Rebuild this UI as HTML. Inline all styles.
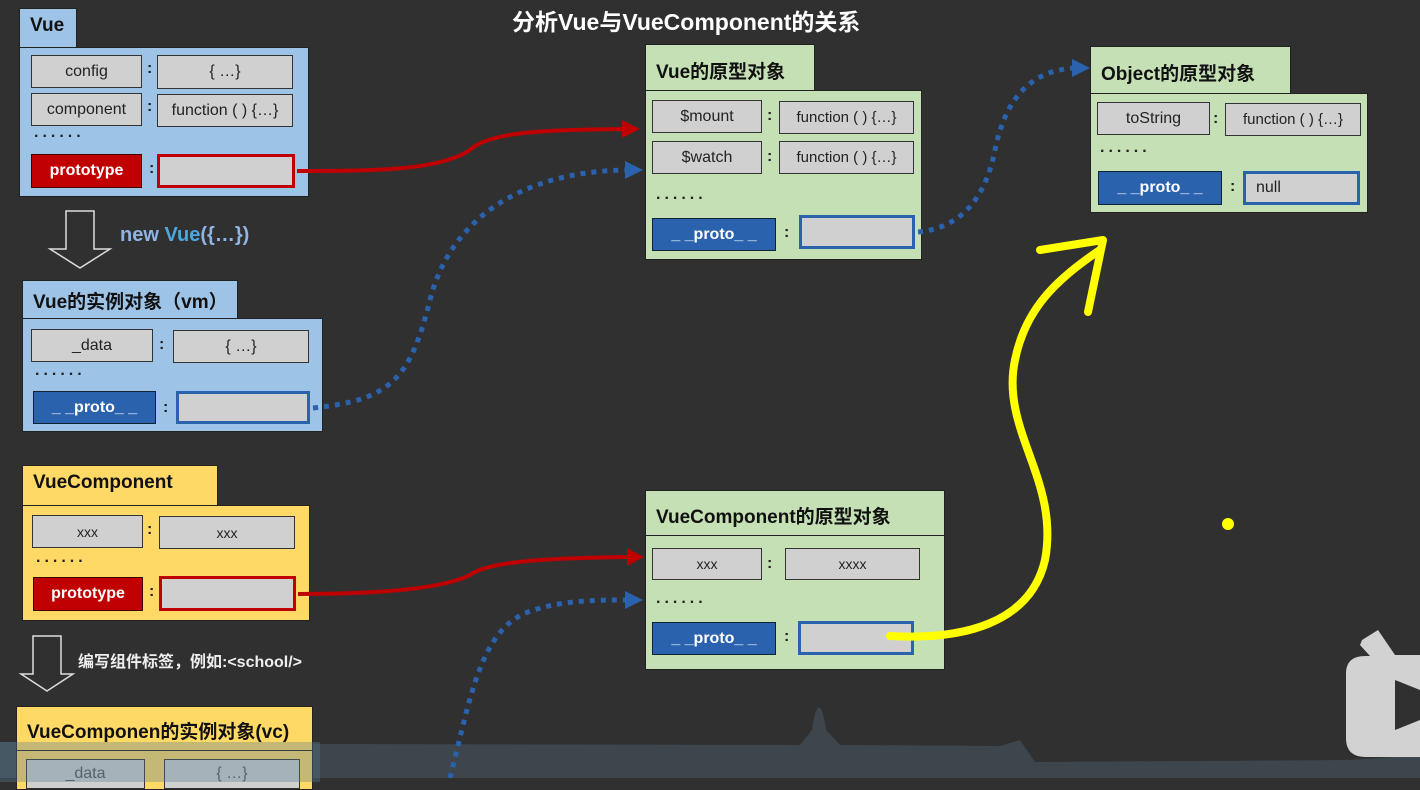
<!DOCTYPE html>
<html><head><meta charset="utf-8"><style>
*{margin:0;padding:0;box-sizing:border-box}
body{width:1420px;height:778px;background:#303030;position:relative;overflow:hidden;font-family:"Liberation Sans","Noto Sans CJK SC",sans-serif}
.a{position:absolute}
.tab{position:absolute;border:1px solid #222;font-weight:bold;font-size:19px;color:#111;padding:6px 0 0 10px}
.body{position:absolute;border:1px solid #222}
.bl{background:#9dc3e6}.gr{background:#c5e0b4}.ye{background:#ffd966}
.k{position:absolute;background:#d0d0d0;border:1px solid #333;font-size:16px;color:#222;display:flex;align-items:center;justify-content:center}
.red{background:#c00000;color:#fff;font-weight:bold;border-color:#400}
.blu{background:#2b62ad;color:#fff;font-weight:bold;border-color:#123}
.rb{border:3px solid #c00000}
.bb{border:3px solid #2b62ad}
.c{position:absolute;font-weight:bold;font-size:16px;color:#222}
.d{position:absolute;font-size:16px;letter-spacing:4px;color:#222;font-weight:bold}
</style></head><body>
<div class="a" style="left:512px;top:3px;color:#fff;font-weight:bold;font-size:23px">分析Vue与VueComponent的关系</div>

<svg class="a" style="left:0;top:0" width="1420" height="778">
<path d="M0 742 L300 742 L320 744 L800 745 L812 730 C816 700 822 700 826 730 L840 745 L1000 746 L1020 740 L1035 762 L1350 760 L1420 755 L1420 778 L0 778z" fill="#5a7a90" opacity="0.3"/>
<path d="M1362 640 L1378 630 L1395 655 L1420 655 L1420 757 L1366 757 C1352 757 1346 750 1346 738 L1346 674 C1346 662 1352 656 1366 656 L1370 656 L1360 645z" fill="#d2d2d2"/>
<path d="M1395 680 L1420 690 L1420 720 L1395 730z" fill="#303030"/>
<path d="M66 211h28v38h16l-30 19l-30-19h16z" fill="none" stroke="#ddd" stroke-width="1.5"/>
<path d="M33 636h28v38h12l-26 17l-26-17h12z" fill="none" stroke="#ddd" stroke-width="1.5"/>
</svg>

<!-- Vue -->
<div class="tab bl" style="left:19px;top:8px;width:58px;height:40px">Vue</div>
<div class="body bl" style="left:19px;top:47px;width:290px;height:150px"></div>
<div class="k" style="left:31px;top:55px;width:111px;height:33px">config</div><div class="c" style="left:147px;top:60px">:</div>
<div class="k" style="left:157px;top:55px;width:136px;height:34px">{ …}</div>
<div class="k" style="left:31px;top:93px;width:111px;height:33px">component</div><div class="c" style="left:147px;top:98px">:</div>
<div class="k" style="left:157px;top:94px;width:136px;height:33px">function ( ) {…}</div>
<div class="d" style="left:34px;top:124px">......</div>
<div class="k red" style="left:31px;top:154px;width:111px;height:34px">prototype</div><div class="c" style="left:149px;top:160px">:</div>
<div class="k rb" style="left:157px;top:154px;width:138px;height:34px"></div>

<div class="a" style="left:120px;top:224px;font-size:20px;font-weight:bold;color:#8fb4e3">new <span style="color:#4da6e0">Vue</span>({…})</div>

<!-- vm -->
<div class="tab bl" style="left:22px;top:280px;width:216px;height:39px">Vue的实例对象（vm）</div>
<div class="body bl" style="left:22px;top:318px;width:301px;height:114px"></div>
<div class="k" style="left:31px;top:329px;width:122px;height:33px">_data</div><div class="c" style="left:159px;top:336px">:</div>
<div class="k" style="left:173px;top:330px;width:136px;height:33px">{ …}</div>
<div class="d" style="left:35px;top:362px">......</div>
<div class="k blu" style="left:33px;top:391px;width:123px;height:33px">_ _proto_ _</div><div class="c" style="left:163px;top:399px">:</div>
<div class="k bb" style="left:176px;top:391px;width:134px;height:33px"></div>

<!-- VueComponent -->
<div class="tab ye" style="left:22px;top:465px;width:196px;height:41px">VueComponent</div>
<div class="body ye" style="left:22px;top:505px;width:288px;height:116px"></div>
<div class="k" style="left:32px;top:515px;width:111px;height:33px;font-size:14px">xxx</div><div class="c" style="left:147px;top:521px">:</div>
<div class="k" style="left:159px;top:516px;width:136px;height:33px;font-size:14px">xxx</div>
<div class="d" style="left:36px;top:549px">......</div>
<div class="k red" style="left:33px;top:577px;width:110px;height:34px">prototype</div><div class="c" style="left:149px;top:583px">:</div>
<div class="k rb" style="left:159px;top:576px;width:137px;height:35px"></div>
<div class="a" style="left:78px;top:648px;color:#eee;font-weight:bold;font-size:16px">编写组件标签，例如:&lt;school/&gt;</div>

<!-- vc -->
<div class="tab ye" style="left:16px;top:706px;width:297px;height:45px;padding-top:10px">VueComponen的实例对象(vc)</div>
<div class="body ye" style="left:16px;top:750px;width:297px;height:40px"></div>
<div class="k" style="left:26px;top:759px;width:119px;height:30px;color:#555">_data</div>
<div class="k" style="left:164px;top:759px;width:136px;height:30px;color:#555">{ …}</div>
<div class="a" style="left:0;top:742px;width:320px;height:40px;background:#5a7a90;opacity:0.35"></div>

<!-- Vue prototype -->
<div class="tab gr" style="left:645px;top:44px;width:170px;height:47px;padding-top:12px">Vue的原型对象</div>
<div class="body gr" style="left:645px;top:90px;width:277px;height:170px"></div>
<div class="k" style="left:652px;top:100px;width:110px;height:33px">$mount</div><div class="c" style="left:767px;top:107px">:</div>
<div class="k" style="left:779px;top:101px;width:135px;height:33px;font-size:15px">function ( ) {…}</div>
<div class="k" style="left:652px;top:141px;width:110px;height:33px">$watch</div><div class="c" style="left:767px;top:148px">:</div>
<div class="k" style="left:779px;top:141px;width:135px;height:33px;font-size:15px">function ( ) {…}</div>
<div class="d" style="left:656px;top:186px">......</div>
<div class="k blu" style="left:652px;top:218px;width:124px;height:33px">_ _proto_ _</div><div class="c" style="left:784px;top:224px">:</div>
<div class="k bb" style="left:799px;top:215px;width:116px;height:34px"></div>

<!-- Object prototype -->
<div class="tab gr" style="left:1090px;top:46px;width:201px;height:48px;padding-top:12px">Object的原型对象</div>
<div class="body gr" style="left:1090px;top:93px;width:278px;height:120px"></div>
<div class="k" style="left:1097px;top:102px;width:113px;height:33px">toString</div><div class="c" style="left:1213px;top:110px">:</div>
<div class="k" style="left:1225px;top:103px;width:136px;height:33px;font-size:15px">function ( ) {…}</div>
<div class="d" style="left:1100px;top:139px">......</div>
<div class="k blu" style="left:1098px;top:171px;width:124px;height:34px">_ _proto_ _</div><div class="c" style="left:1230px;top:178px">:</div>
<div class="k bb" style="left:1243px;top:171px;width:117px;height:34px;justify-content:flex-start;padding-left:10px">null</div>

<!-- VueComponent prototype -->
<div class="tab gr" style="left:645px;top:490px;width:300px;height:46px;padding-top:11px">VueComponent的原型对象</div>
<div class="body gr" style="left:645px;top:535px;width:300px;height:135px"></div>
<div class="k" style="left:652px;top:548px;width:110px;height:32px;font-size:14px">xxx</div><div class="c" style="left:767px;top:555px">:</div>
<div class="k" style="left:785px;top:548px;width:135px;height:32px;font-size:14px">xxxx</div>
<div class="d" style="left:656px;top:590px">......</div>
<div class="k blu" style="left:652px;top:622px;width:124px;height:33px">_ _proto_ _</div><div class="c" style="left:784px;top:628px">:</div>
<div class="k bb" style="left:798px;top:621px;width:116px;height:34px"></div>

<svg class="a" style="left:0;top:0;z-index:5" width="1420" height="778">
<g fill="none" stroke-linecap="butt">
<path d="M297 171 C380 171 440 170 470 150 C490 130 560 130 622 129" stroke="#c00000" stroke-width="4"/>
<path d="M298 594 C370 594 440 590 470 575 C490 560 560 558 627 557" stroke="#c00000" stroke-width="4"/>
<path d="M313 408 C390 400 410 380 430 300 C450 220 520 172 625 170" stroke="#2b62ad" stroke-width="5" stroke-dasharray="5 6"/>
<path d="M918 232 C960 228 985 200 995 150 C1005 100 1030 70 1075 68" stroke="#2b62ad" stroke-width="5" stroke-dasharray="5 6"/>
<path d="M450 778 C470 700 480 630 528 612 C560 600 600 600 625 600" stroke="#2b62ad" stroke-width="5" stroke-dasharray="5 6"/>
</g>
<g fill="none" stroke-linecap="round" stroke-linejoin="round">
<path d="M890 636 C960 640 1030 625 1045 560 C1060 480 1000 430 1015 360 C1025 310 1055 280 1100 250" stroke="#ffff00" stroke-width="8"/>
<path d="M1040 250 L1103 240 L1088 312" stroke="#ffff00" stroke-width="8"/>
</g>
<path d="M622 120 L640 129 L622 138z" fill="#c00000"/>
<path d="M627 548 L644 557 L627 566z" fill="#c00000"/>
<path d="M625 161 L643 170 L625 179z" fill="#2b62ad"/>
<path d="M1072 59 L1090 68 L1072 77z" fill="#2b62ad"/>
<path d="M625 591 L643 600 L625 609z" fill="#2b62ad"/>
<circle cx="1228" cy="524" r="6" fill="#ffff00"/>
</svg>
</body></html>
